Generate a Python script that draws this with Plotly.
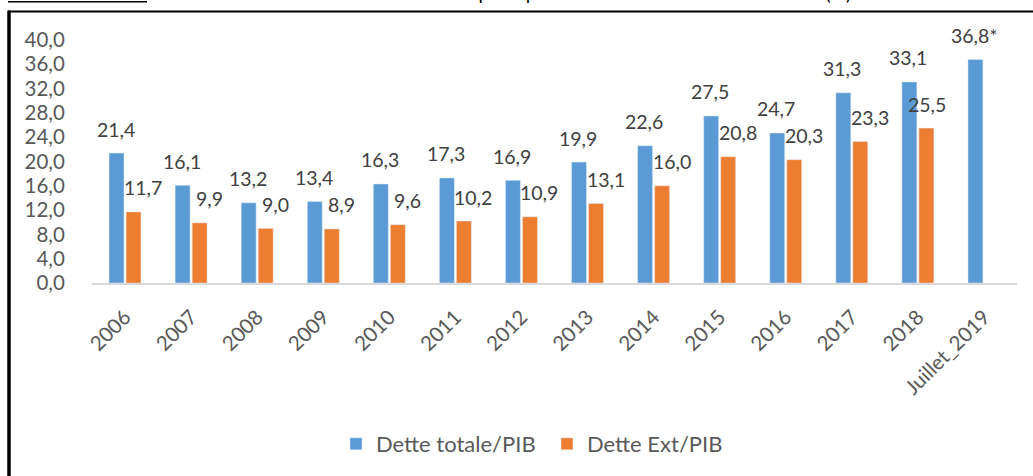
import plotly.graph_objects as go

# --- data ---
annees = ["2006", "2007", "2008", "2009", "2010", "2011", "2012",
          "2013", "2014", "2015", "2016", "2017", "2018", "Juillet_2019"]
dette_totale = [21.4, 16.1, 13.2, 13.4, 16.3, 17.3, 16.9, 19.9, 22.6, 27.5, 24.7, 31.3, 33.1, 36.8]
dette_ext = [11.7, 9.9, 9.0, 8.9, 9.6, 10.2, 10.9, 13.1, 16.0, 20.8, 20.3, 23.3, 25.5, None]
y_ticks = [0, 4, 8, 12, 16, 20, 24, 28, 32, 36, 40]

BLEU = "#5B9BD5"
ORANGE = "#ED7D31"
FONT = "Lato"

# plot area in pixels (page is 1033 x 476)
L, R, T, B = 92, 1017, 40, 284
W, H = R - L, B - T


def px(x):
    return (x - L) / W


def py(y):
    return (B - y) / H


def fmt(v):
    return f"{v:.1f}".replace(".", ",")


fig = go.Figure()
fig.add_trace(go.Bar(x=annees, y=dette_totale, name="Dette totale/PIB",
                     marker=dict(color=BLEU)))
fig.add_trace(go.Bar(x=annees, y=dette_ext, name="Dette Ext/PIB",
                     marker=dict(color=ORANGE)))

# data labels (Excel style, sitting well above the bars); x given as category index
annots = []
for i, v in enumerate(dette_totale):
    txt = fmt(v) + ("*" if annees[i] == "Juillet_2019" else "")
    annots.append(dict(x=i, y=v, text=txt, showarrow=False, xshift=-9.5, yshift=24,
                       yanchor="middle", font=dict(family=FONT, size=19.5, color="#404040")))
for i, v in enumerate(dette_ext):
    if v is None:
        continue
    nudge = 0 if annees[i] == "2018" else 8.5
    annots.append(dict(x=i, y=v, text=fmt(v), showarrow=False, xshift=9.5 + nudge, yshift=24,
                       yanchor="middle", font=dict(family=FONT, size=19.5, color="#404040")))

# clipped caption at the very top of the page
annots.append(dict(xref="paper", yref="paper", x=px(853), y=py(6), xanchor="right", yanchor="bottom",
                   text="Evolution de la dette publique totale et extérieure en % du PIB (%)",
                   showarrow=False, font=dict(family=FONT, size=19, color="#000000")))

shapes = [
    # frame
    dict(type="line", xref="paper", yref="paper", x0=px(8), x1=px(1040), y0=py(11.5), y1=py(11.5),
         line=dict(color="black", width=2)),
    dict(type="line", xref="paper", yref="paper", x0=px(9), x1=px(9), y0=py(10.5), y1=py(480),
         line=dict(color="black", width=3.5)),
    # underline of the cut caption
    dict(type="line", xref="paper", yref="paper", x0=px(8), x1=px(147), y0=py(1.5), y1=py(1.5),
         line=dict(color="black", width=1.5)),
]

fig.update_layout(
    width=1033, height=476,
    margin=dict(l=L, r=1033 - R, t=T, b=476 - B),
    paper_bgcolor="white", plot_bgcolor="white",
    barmode="group", bargap=0.485, bargroupgap=0.12,
    separators=", ",
    font=dict(family=FONT, size=19, color="#595959"),
    showlegend=True,
    legend=dict(orientation="h", x=px(336), y=py(444), xanchor="left", yanchor="middle",
                font=dict(family=FONT, size=22, color="#595959"), itemwidth=30,
                entrywidth=166, traceorder="normal"),
    annotations=annots,
    shapes=shapes,
)
fig.update_xaxes(type="category", range=[-0.5, len(annees) - 0.5], showgrid=False, showline=True,
                 linecolor="#D9D9D9", linewidth=2, tickangle=-45, ticks="outside", ticklen=12,
                 tickcolor="rgba(0,0,0,0)", tickfont=dict(family=FONT, size=20.5, color="#595959"))
fig.update_yaxes(range=[0, 40], tickvals=y_ticks, tickformat=".1f", showgrid=False, showline=False,
                 zeroline=False, ticks="outside", ticklen=22, tickcolor="rgba(0,0,0,0)",
                 tickfont=dict(family=FONT, size=20.5, color="#595959"))

# drop the default body margin so the figure sits at the page corner
fig.write_html("out.html", config={"displayModeBar": False},
               post_script="document.body.style.margin='0';")
